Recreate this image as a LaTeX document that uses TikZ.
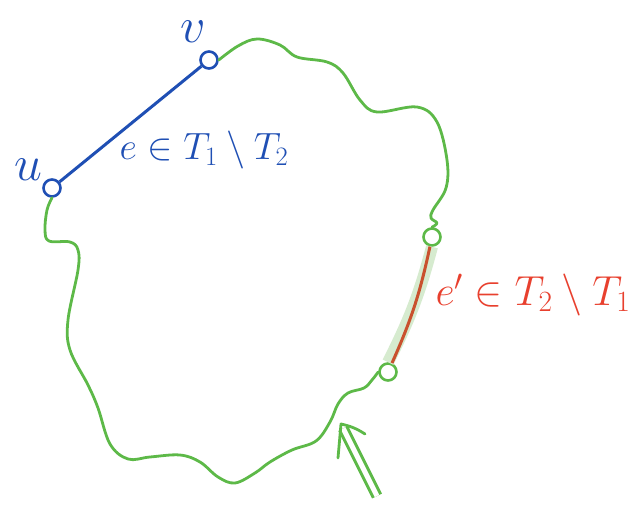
\documentclass[tikz,border=0pt]{standalone}
\usepackage{fix-cm}
\usetikzlibrary{arrows.meta}
\definecolor{penblue}{HTML}{1F4FB4}
\definecolor{pengreen}{HTML}{5DB948}
\definecolor{penred}{HTML}{E8402E}
\definecolor{edgered}{HTML}{C9512E}
\definecolor{glow}{HTML}{D6EBCF}

\begin{document}
\begin{tikzpicture}[x=1pt, y=-1pt,
  vert/.style={circle, draw, line width=2.6pt, minimum size=17pt, inner sep=0pt},
  walk/.style={pengreen, line width=2.8pt, line cap=round, line join=round},
  lbl/.style={font=\fontsize{38}{44}\selectfont},
  vlbl/.style={font=\fontsize{50}{56}\selectfont}]
  \useasboundingbox (0,0) rectangle (638,505);
  \node[vert, draw=penblue] (u) at (52,188) {};
  \node[vert, draw=penblue] (v) at (209,60) {};
  \node[vert, draw=pengreen] (a) at (432,237) {};
  \node[vert, draw=pengreen] (b) at (388,372) {};
  \node[vlbl, text=penblue] (lu) at (28,170) {$u$};
  \node[vlbl, text=penblue] (lv) at (193,32) {$v$};
  \node[lbl, text=penblue] (le) at (204,150) {$e\in T_1\setminus T_2$};
  \node[lbl, text=penred, font=\fontsize{42}{48}\selectfont] (lf) at (533,295) {$e'\in T_2\setminus T_1$};
  % the tree edge e and the swapped edge e'
  \draw[penblue, line width=3pt] (u) -- (v);
  \draw[glow, line width=12pt] (a.south) to[bend left=6] (b.north);
  \draw[edgered, line width=3pt] (a) to[bend left=6] (b);
  % the path in T_2 from v back to u
  \draw[walk] plot[smooth, tension=0.6] coordinates {(v.east) (238,46) (257,39) (280,45)
    (297,57) (327,62) (343,73) (360,100) (377,112) (417,107) (437,122) (447,160)
    (446,188) (433,210) (431,218) (437,223) (a.north)};
  \draw[walk] plot[smooth, tension=0.6] coordinates {(b.west) (372,380) (364,388)
    (348,393) (338,404) (330,422) (316,441) (292,450) (270,462) (255,473) (235,483)
    (218,477) (200,462) (180,455) (150,457) (128,459) (110,444) (98,408) (88,385)
    (70,350) (68,320) (78,270) (78,250) (70,242) (49,241) (45,230) (47,210) (u.south)};
  % pointer to the path
  \coordinate (tail) at (377,496);
  \coordinate (tip) at (341,424);
  \coordinate (barbl) at (338,458);
  \coordinate (barbr) at (365,434);
  \draw[pengreen, double, double distance=5pt, line width=3pt, shorten >=5pt] (tail) -- (tip);
  \draw[walk] (barbl) -- (tip) to[bend left=10] (barbr);
\end{tikzpicture}
\end{document}
